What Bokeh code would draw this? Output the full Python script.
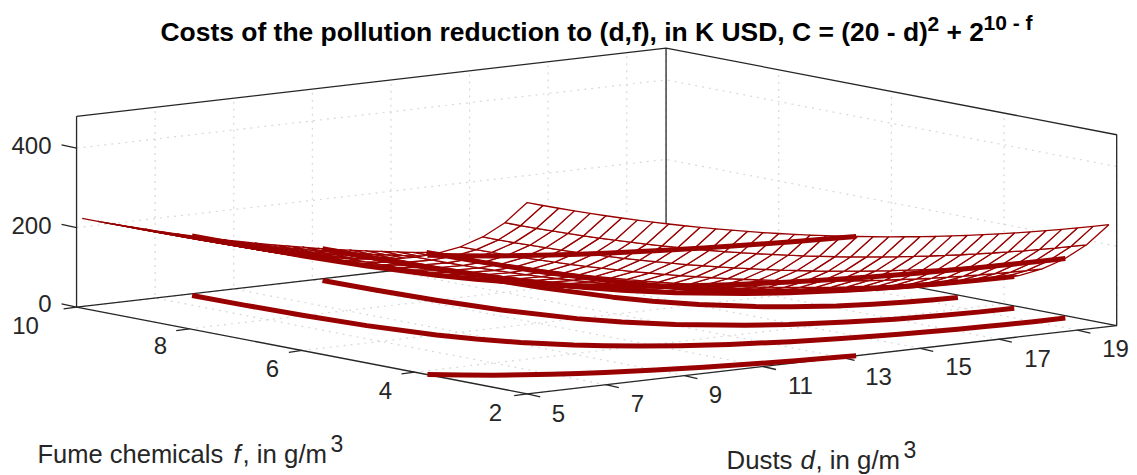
from bokeh.plotting import figure
from bokeh.models import Range1d
from bokeh.embed import file_html
from bokeh.resources import INLINE
from bokeh.core.properties import value

dust_d = [5.0, 5.4, 5.8, 6.2, 6.6, 7.0, 7.4, 7.8, 8.2, 8.6, 9.0, 9.4, 9.8, 10.2, 10.6, 11.0, 11.4, 11.8, 12.2,
          12.6, 13.0, 13.4, 13.8, 14.2, 14.6, 15.0, 15.4, 15.8, 16.2, 16.6, 17.0, 17.4, 17.8, 18.2, 18.6, 19.0, 19.4, 19.8]
dust_cost = [225, 213.16, 201.64, 190.44, 179.56, 169, 158.76, 148.84, 139.24, 129.96, 121, 112.36, 104.04, 96.04,
             88.36, 81, 73.96, 67.24, 60.84, 54.76, 49, 43.56, 38.44, 33.64, 29.16, 25, 21.16, 17.64, 14.44, 11.56,
             9, 6.76, 4.84, 3.24, 1.96, 1, 0.36, 0.04]
fume_f = [2.0, 2.395, 2.79, 3.185, 3.58, 3.975, 4.37, 4.765, 5.16, 5.555, 5.95, 6.345, 6.74, 7.135, 7.53, 7.925,
          8.32, 8.715, 9.11, 9.505, 9.9]
fume_cost = [256, 194.7, 148.1, 112.6, 85.6, 65.1, 49.5, 37.7, 28.6, 21.8, 16.6, 12.6, 9.6, 7.3, 5.5, 4.2, 3.2,
             2.4, 1.85, 1.41, 1.07]

levels = [300, 150, 80, 40]
level_d = [
    [5, 5.5, 6, 6.5, 7, 7.5, 8, 9, 10, 11, 12, 13, 13.37],
    [7.796, 7.834, 7.917, 8.084, 8.424, 8.714, 9.137, 9.765, 10.19, 10.726, 11.4, 12.287, 13.491, 14.47, 15.31, 15.82, 16.42, 17.17, 17.76, 18.277, 19, 19.8],
    [11.116, 11.168, 11.282, 11.515, 12, 12.426, 13.072, 14.105, 14.883, 16, 17, 18.025, 18.905, 19.8],
    [13.761, 13.836, 14, 14.343, 14.644, 15.101, 15.832, 16.382, 17.172, 17.879, 18.604, 19.225, 19.8],
]
level_f = [
    [3.771, 3.52, 3.3, 3.12, 2.967, 2.834, 2.715, 2.516, 2.356, 2.225, 2.117, 2.028, 2.0],
    [9.9, 9, 8, 7, 6, 5.5, 5, 4.5, 4.25, 4, 3.75, 3.5, 3.25, 3.1, 3, 2.95, 2.9, 2.85, 2.82, 2.8, 2.781, 2.772],
    [9.9, 9, 8, 7, 6, 5.5, 5, 4.5, 4.25, 4, 3.85, 3.75, 3.7, 3.679],
    [9.9, 9, 8, 7, 6.5, 6, 5.5, 5.25, 5, 4.85, 4.75, 4.7, 4.68],
]

d_ticks = [5, 7, 9, 11, 13, 15, 17, 19]
f_ticks = [2, 4, 6, 8, 10]
z_ticks = [0, 200, 400]
d_lim = (5, 20)
f_lim = (2, 10)
z_lim = (0, 480)

RED = "#990000"
INK = "#262626"
FONT = value("Liberation Sans")


def px(d, f):
    return 526.7 + (d - 5) * 39.3 - (f - 2) * 56.33


def py(d, f, z=0):
    return 393.3 - (d - 5) * 4.55 - (f - 2) * 10.83 - z * 0.3975


p = figure(width=1137, height=475, output_backend="svg", toolbar_location=None,
           x_range=Range1d(0, 1137), y_range=Range1d(475, 0), min_border=0)
p.axis.visible = False
p.grid.visible = False
p.outline_line_color = None
p.background_fill_color = "white"


def seg(pts, **kw):
    p.line([px(a, b) for a, b, c in pts], [py(a, b, c) for a, b, c in pts], **kw)


# dotted grid: floor and the two back walls
grid = dict(line_color="#d8d8d8", line_width=1.2, line_dash="2 5")
d0, d1 = d_lim
f0, f1 = f_lim
z0, z1 = z_lim
for d in d_ticks:
    seg([(d, f0, 0), (d, f1, 0), (d, f1, z1)], **grid)
for f in f_ticks:
    seg([(d0, f, 0), (d1, f, 0), (d1, f, z1)], **grid)
for z in z_ticks:
    seg([(d0, f1, z), (d1, f1, z), (d1, f0, z)], **grid)

# box
box = dict(line_color=INK, line_width=1.3)
seg([(d0, f1, z1), (d0, f1, 0), (d0, f0, 0), (d1, f0, 0), (d1, f0, z1), (d1, f1, z1), (d0, f1, z1)], **box)
seg([(d0, f1, 0), (d1, f1, 0), (d1, f0, 0)], **box)
seg([(d1, f1, 0), (d1, f1, z1)], **box)

# ticks
tick_xs, tick_ys = [], []
for z in z_ticks:
    tick_xs.append([px(d0, f1) - 15, px(d0, f1)])
    tick_ys.append([py(d0, f1, z) - 3.2, py(d0, f1, z)])
for f in f_ticks:
    tick_xs.append([px(d0, f) - 13, px(d0, f)])
    tick_ys.append([py(d0, f) + 1.8, py(d0, f)])
for d in d_ticks:
    tick_xs.append([px(d, f0), px(d, f0) + 13])
    tick_ys.append([py(d, f0), py(d, f0) + 3])
p.multi_line(tick_xs, tick_ys, line_color=INK, line_width=1.3)

# level curves on the floor
for ds, fs in zip(level_d, level_f):
    p.line([px(a, b) for a, b in zip(ds, fs)], [py(a, b) for a, b in zip(ds, fs)],
           line_color=RED, line_width=5, line_join="round")

# mesh, far to near
qx, qy = [], []
for i in range(len(fume_f) - 2, -1, -1):
    for j in range(len(dust_d) - 2, -1, -1):
        corners = [(j, i), (j + 1, i), (j + 1, i + 1), (j, i + 1)]
        qx.append([px(dust_d[a], fume_f[b]) for a, b in corners])
        qy.append([py(dust_d[a], fume_f[b], dust_cost[a] + fume_cost[b]) for a, b in corners])
p.patches(qx, qy, fill_color="white", line_color=RED, line_width=1.3)

# level curves on the surface
for lev, ds, fs in zip(levels, level_d, level_f):
    p.line([px(a, b) for a, b in zip(ds, fs)], [py(a, b, lev) for a, b in zip(ds, fs)],
           line_color=RED, line_width=5, line_join="round")


def label(x, y, s, size=24, style="normal", color=INK, align="left"):
    p.text([x], [y], text=[s], text_font=FONT, text_font_size=value(f"{size}px"), text_font_style=style,
           text_color=color, text_align=align, text_baseline="middle")


# tick labels
for z, y in zip(z_ticks, [303, 225, 145]):
    label(51, y, str(z), align="right")
for f, (x, y) in zip(f_ticks, [(495, 412), (385, 390), (272, 368), (160, 345), (25, 325)]):
    label(x, y, str(f), align="center")
for d, (x, y) in zip(d_ticks, [(558, 413), (637, 403), (715, 394), (800, 385), (878, 376), (958, 366), (1037, 358), (1115, 348)]):
    label(x, y, str(d), align="center")

# axis names
label(37, 453, "Fume chemicals", size=25.5)
label(233, 453, "f", size=25.5, style="italic")
label(242, 453, ", in g/m", size=25.8)
label(330, 443, "3", size=23)
label(726, 459, "Dusts", size=25.8)
label(800, 459, "d", size=25.8, style="italic")
label(815, 459, ", in g/m", size=25.8)
label(903, 449, "3", size=23)

# title
label(160, 31, "Costs of the pollution reduction to (d,f), in K USD, C = (20 - d)", size=26.45, style="bold", color="black")
label(927, 23, "2", size=21, style="bold", color="black")
label(946, 31, "+ 2", size=26.3, style="bold", color="black")
label(983, 22, "10 - f", size=21, style="bold", color="black")

open("out.html", "w").write(file_html(p, INLINE))
